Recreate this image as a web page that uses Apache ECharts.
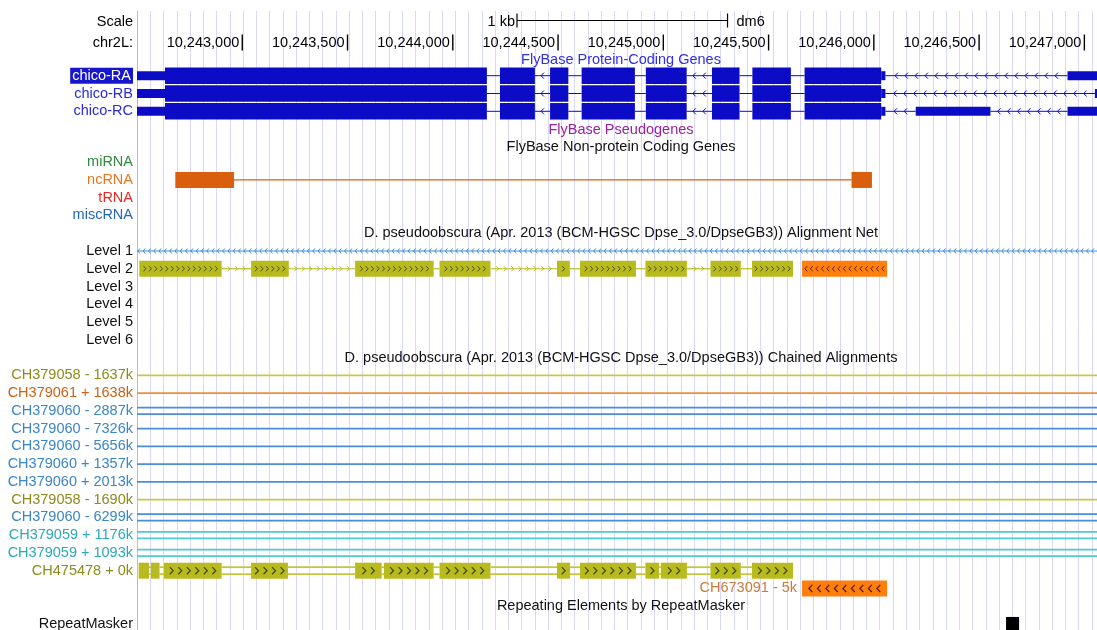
<!DOCTYPE html>
<html><head><meta charset="utf-8">
<script src="https://cdn.jsdelivr.net/npm/echarts@6/dist/echarts.min.js"></script>
<style>html,body{margin:0;padding:0;background:#fff}#c{width:1097px;height:630px}</style>
</head><body><div id="c"></div>
<script>
// ---------------- DATA (genomic coordinates, chr2L, dm6) ----------------
const viewRange = [10242500, 10247060];
const rulerTicks = [10243000,10243500,10244000,10244500,10245000,10245500,10246000,10246500,10247000];
const rulerLabels = ['10,243,000','10,243,500','10,244,000','10,244,500','10,245,000','10,245,500','10,246,000','10,246,500','10,247,000'];
const scaleBar = [10244305, 10245305];          // 1 kb
const scaleBarLabel = '1 kb';
const assemblyLabel = 'dm6';
const chromLabel = 'chr2L:';

const transcripts = ['chico-RA','chico-RB','chico-RC'];
const chicoCDS = [[10242633,10244162],[10244224,10244390],[10244462,10244549],[10244612,10244865],
                  [10244917,10245111],[10245231,10245362],[10245423,10245606],[10245671,10246035]];
const chicoUTRshared = [[10242380,10242633],[10246035,10246055]];
const chicoRA_UTR = [[10246920,10247400]];
const chicoRB_UTR = [[10247050,10247400]];
const chicoRC_UTR = [[10246199,10246554],[10246920,10247400]];

const ncRNAExons = [[10242682,10242961],[10245894,10245991]];
const rnaClasses = ['miRNA','ncRNA','tRNA','miscRNA'];

const netLevels = ['Level 1','Level 2','Level 3','Level 4','Level 5','Level 6'];
const netLevel1 = [10242000, 10247600];
const netLevel2Plus = [[10242511,10242902],[10243042,10243221],[10243536,10243909],[10243937,10244179],
                       [10244495,10244556],[10244604,10244870],[10244915,10245112],[10245224,10245368],[10245421,10245616]];
const netLevel2Minus = [[10245659,10246063]];

const chainNames = ['CH379058 - 1637k','CH379061 + 1638k','CH379060 - 2887k','CH379060 - 7326k',
                    'CH379060 - 5656k','CH379060 + 1357k','CH379060 + 2013k','CH379058 - 1690k',
                    'CH379060 - 6299k','CH379059 + 1176k','CH379059 + 1093k'];
const chainDoubleGap = [false,false,true,false,false,false,false,false,true,true,true];
const chainSpan = [10242000, 10247600];
const chainCH475478Name = 'CH475478 + 0k';
const chainCH475478 = [[10242508,10242557],[10242566,10242607],[10242628,10242902],[10243042,10243217],
                       [10243536,10243662],[10243673,10243909],[10243937,10244179],[10244495,10244557],
                       [10244604,10244870],[10244915,10244980],[10244988,10245112],[10245224,10245368],[10245421,10245616]];
const chainCH673091Name = 'CH673091 - 5k';
const chainCH673091 = [[10245659,10246063]];

const repeatMaskerBlocks = [[10246628,10246690]];

const titles = {
  protein: 'FlyBase Protein-Coding Genes',
  pseudo: 'FlyBase Pseudogenes',
  noncoding: 'FlyBase Non-protein Coding Genes',
  net: 'D. pseudoobscura (Apr. 2013 (BCM-HGSC Dpse_3.0/DpseGB3)) Alignment Net',
  chain: 'D. pseudoobscura (Apr. 2013 (BCM-HGSC Dpse_3.0/DpseGB3)) Chained Alignments',
  repeat: 'Repeating Elements by RepeatMasker'
};

// ---------------- LAYOUT & STYLE ----------------
const FONT = '14.5px "Liberation Sans", Arial, sans-serif';
const STEP = 17.76;
const Y = {
  scale: 21.5, ruler: 42.5, protTitle: 59.5,
  tx: [75.7, 93.5, 111.3],
  pseudoTitle: 129.5, ncTitle: 147,
  rna0: 162.2,
};
Y.netTitle = Y.rna0 + 4*STEP;
Y.level0 = Y.rna0 + 5*STEP;
Y.chainTitle = Y.level0 + 6*STEP;
Y.chain0 = Y.level0 + 7*STEP;
Y.repeatTitle = Y.chain0 + 13*STEP;
Y.repeat = Y.chain0 + 14*STEP;

const C = {
  gene: '#0c0cc6', geneText: '#2a2ad8', protTitle: '#2f2fe6', pseudo: '#9a1fa0',
  rna: ['#2e8b3e','#e8761e','#e82828','#2266c0'],
  ncrna: '#d95f0e',
  netBlue: '#3d8ed2', olive: '#b8bb1e', oliveLine: '#c5c63e', oliveDark: '#4a4a0c',
  orange: '#ff7e0c', orangeDark: '#5a2200',
  chainColor: {CH379058:'#c8c848', CH379061:'#f08c3c', CH379060:'#4a8fd4', CH379059:'#4fc8d8', CH475478:'#c5c63e'},
  chainText: {CH379058:'#8c8c1c', CH379061:'#c8621a', CH379060:'#3a86c8', CH379059:'#2ea8b8', CH475478:'#8c8c1c', CH673091:'#c87a3a'},
  guide: '#d8d8fc', red: '#f4a6a6'
};
const GUIDE_STEP = 63;

// ---------------- ITEMS ----------------
const items = [];
rulerTicks.forEach((t,i)=>items.push({kind:'tick', s:t, e:t, y:Y.ruler, label:rulerLabels[i]}));
items.push({kind:'scalebar', s:scaleBar[0], e:scaleBar[1], y:Y.scale - 1});
const txUTR = [chicoRA_UTR, chicoRB_UTR, chicoRC_UTR];
transcripts.forEach((name, ti) => {
  const y = Y.tx[ti];
  const blocks = [];
  chicoCDS.forEach(b => blocks.push({s:b[0], e:b[1], h:16.5}));
  chicoUTRshared.concat(txUTR[ti]).forEach(b => blocks.push({s:b[0], e:b[1], h:9}));
  blocks.sort((a,b)=>a.s-b.s);
  for (let i=0;i<blocks.length-1;i++){
    if (blocks[i+1].s > blocks[i].e + 1)
      items.push({kind:'line', s:blocks[i].e, e:blocks[i+1].s, y, color:C.gene, lw:1, offs:[0],
                  arrows:{dir:-1, step:10, w:3, hh:3, color:C.gene, lw:1}});
  }
  blocks.forEach(b => items.push({kind:'block', s:b.s, e:b.e, y, h:b.h, fill:C.gene}));
});
items.push({kind:'line', s:ncRNAExons[0][1], e:ncRNAExons[1][0], y:Y.rna0+STEP, color:C.ncrna, lw:1.2, offs:[0]});
ncRNAExons.forEach(b => items.push({kind:'block', s:b[0], e:b[1], y:Y.rna0+STEP, h:16, fill:C.ncrna}));
items.push({kind:'line', s:netLevel1[0], e:netLevel1[1], y:Y.level0, color:C.netBlue, lw:1, offs:[0],
            arrows:{dir:-1, step:5.3, w:2, hh:2.5, color:C.netBlue, lw:1}});
for (let i=0;i<netLevel2Plus.length-1;i++)
  items.push({kind:'line', s:netLevel2Plus[i][1], e:netLevel2Plus[i+1][0], y:Y.level0+STEP, color:C.olive, lw:1.2, offs:[0],
              arrows:{dir:1, step:7.5, w:2.5, hh:2.5, color:C.olive, lw:1}});
netLevel2Plus.forEach(b => items.push({kind:'block', s:b[0], e:b[1], y:Y.level0+STEP, h:16, fill:C.olive,
            chev:{dir:1, step:5.5, w:2.4, hh:2.6, color:C.oliveDark, lw:1}}));
netLevel2Minus.forEach(b => items.push({kind:'block', s:b[0], e:b[1], y:Y.level0+STEP, h:16, fill:C.orange,
            chev:{dir:-1, step:5.5, w:2.4, hh:2.6, color:C.orangeDark, lw:1}}));
chainNames.forEach((n,i) => {
  const chrom = n.split(' ')[0];
  items.push({kind:'line', s:chainSpan[0], e:chainSpan[1], y:Y.chain0+i*STEP, color:C.chainColor[chrom], lw:1.8,
              offs: chainDoubleGap[i] ? [-3.3, 3.3] : [0]});
});
const yCH = Y.chain0 + 11*STEP;
for (let i=0;i<chainCH475478.length-1;i++)
  items.push({kind:'line', s:chainCH475478[i][1], e:chainCH475478[i+1][0], y:yCH, color:C.oliveLine, lw:1.8, offs:[-3.5,3.5]});
chainCH475478.forEach(b => items.push({kind:'block', s:b[0], e:b[1], y:yCH, h:16, fill:C.olive,
            chev:{dir:1, step:8.5, w:3.4, hh:3.6, color:C.oliveDark, lw:1.3}}));
chainCH673091.forEach(b => items.push({kind:'block', s:b[0], e:b[1], y:Y.chain0+12*STEP, h:16, fill:C.orange,
            chev:{dir:-1, step:8.5, w:3.4, hh:3.6, color:C.orangeDark, lw:1.3},
            label:{text:chainCH673091Name, color:C.chainText.CH673091}}));
repeatMaskerBlocks.forEach(b => items.push({kind:'block', s:b[0], e:b[1], y:Y.repeat+1, h:16, fill:'#000'}));

// ---------------- RENDER ----------------
function txt(text, x, y, color, align, extra) {
  return {type:'text', style:Object.assign({text, x, y, fill:color, font:FONT,
    align, verticalAlign:'middle', textAlign:align, textVerticalAlign:'middle'}, extra||{})};
}
function chevs(out, x0, x1, yc, c, fit) {
  const w = x1 - x0;
  const n = fit ? Math.floor((w - 2) / c.step) : Math.floor((w - c.step*0.5) / c.step);
  if (n <= 0) return;
  const start = (x0 + x1)/2 - (n-1)*c.step/2;
  for (let k=0;k<n;k++){
    const x = start + k*c.step;
    const pts = c.dir > 0 ? [[x-c.w/2, yc-c.hh],[x+c.w/2, yc],[x-c.w/2, yc+c.hh]]
                          : [[x+c.w/2, yc-c.hh],[x-c.w/2, yc],[x+c.w/2, yc+c.hh]];
    out.push({type:'polyline', shape:{points:pts}, style:{stroke:c.color, lineWidth:c.lw, fill:null}});
  }
}
function renderItem(params, api) {
  const it = items[params.dataIndex];
  const X = v => api.coord([v, 300])[0];
  const YY = v => api.coord([viewRange[0], v])[1];
  const ch = [];
  const x0 = X(it.s), x1 = X(it.e), yc = YY(it.y);
  if (it.kind === 'block') {
    ch.push({type:'rect', shape:{x:x0, y:yc-it.h/2, width:Math.max(1, x1-x0), height:it.h}, style:{fill:it.fill}});
    if (it.chev) chevs(ch, x0, x1, yc, it.chev, true);
    if (it.label) ch.push(txt(it.label.text, x0-5, yc, it.label.color, 'right'));
  } else if (it.kind === 'line') {
    it.offs.forEach(o => ch.push({type:'line', shape:{x1:x0, y1:yc+o, x2:x1, y2:yc+o}, style:{stroke:it.color, lineWidth:it.lw}}));
    if (it.arrows) chevs(ch, x0, x1, yc, it.arrows, false);
  } else if (it.kind === 'tick') {
    ch.push({type:'line', shape:{x1:x0, y1:yc-8, x2:x0, y2:yc+8}, style:{stroke:'#000', lineWidth:1.4}});
    ch.push(txt(it.label, x0-3, yc, '#000', 'right'));
  } else if (it.kind === 'scalebar') {
    ch.push({type:'line', shape:{x1:x0, y1:yc, x2:x1, y2:yc}, style:{stroke:'#000', lineWidth:1}});
    ch.push({type:'line', shape:{x1:x0, y1:yc-7, x2:x0, y2:yc+7}, style:{stroke:'#000', lineWidth:1.2}});
    ch.push({type:'line', shape:{x1:x1, y1:yc-7, x2:x1, y2:yc+7}, style:{stroke:'#000', lineWidth:1.2}});
    ch.push(txt(scaleBarLabel, x0-2, yc+1, '#000', 'right'));
    ch.push(txt(assemblyLabel, x1+9, yc+1, '#000', 'left'));
  }
  return {type:'group', children:ch};
}

// ---------------- TEXT (labels & titles) ----------------
const LX = 133, TX = 621;
const g = [];
function gtxt(text, x, y, color, align, extra) {
  g.push({type:'text', x, y, z:10, style:Object.assign({text, fill:color, font:FONT,
    align, verticalAlign:'middle', textAlign:align, textVerticalAlign:'middle'}, extra||{})});
}
gtxt('Scale', LX, Y.scale, '#000', 'right');
gtxt(chromLabel, LX, Y.ruler, '#000', 'right');
gtxt(titles.protein, TX, Y.protTitle, C.protTitle, 'center');
transcripts.forEach((n,i) => {
  if (i === 0) gtxt(n, LX, Y.tx[i], '#fff', 'right', {backgroundColor:'#1616cc', padding:[1,2,0,2]});
  else gtxt(n, LX, Y.tx[i], C.geneText, 'right');
});
gtxt(titles.pseudo, TX, Y.pseudoTitle, C.pseudo, 'center');
gtxt(titles.noncoding, TX, Y.ncTitle, '#111', 'center');
rnaClasses.forEach((n,i) => gtxt(n, LX, Y.rna0 + i*STEP, C.rna[i], 'right'));
gtxt(titles.net, TX, Y.netTitle, '#111', 'center');
netLevels.forEach((n,i) => gtxt(n, LX, Y.level0 + i*STEP, '#111', 'right'));
gtxt(titles.chain, TX, Y.chainTitle, '#111', 'center');
chainNames.forEach((n,i) => gtxt(n, LX, Y.chain0 + i*STEP, C.chainText[n.split(' ')[0]], 'right'));
gtxt(chainCH475478Name, LX, yCH, C.chainText.CH475478, 'right');
gtxt(titles.repeat, TX, Y.repeatTitle, '#111', 'center');
gtxt('RepeatMasker', LX, Y.repeat, '#111', 'right');

const chart = echarts.init(document.getElementById('c'), null, {renderer:'canvas', width:1097, height:630});
chart.setOption({
  animation:false,
  backgroundColor:'#fff',
  grid:{left:137, right:0, top:11, bottom:0, containLabel:false},
  xAxis:[
    {type:'value', min:viewRange[0], max:viewRange[1], show:false},
    {type:'value', min:0, max:viewRange[1]-viewRange[0], interval:GUIDE_STEP, position:'top',
     axisLine:{show:false, onZero:false}, axisTick:{show:false}, axisLabel:{show:false},
     splitLine:{show:true, lineStyle:{color:C.guide, width:1}}}
  ],
  yAxis:{type:'value', min:11, max:630, inverse:true,
    axisLine:{show:true, onZero:false, lineStyle:{color:C.red, width:1}},
    axisTick:{show:false}, axisLabel:{show:false}, splitLine:{show:false}},
  graphic: g,
  series:[{
    type:'custom', xAxisIndex:0, yAxisIndex:0, clip:true, silent:true, z:3,
    encode:{x:[0,1], y:2},
    data: items.map(it => [it.s, it.e, it.y]),
    renderItem
  }]
});
</script></body></html>
